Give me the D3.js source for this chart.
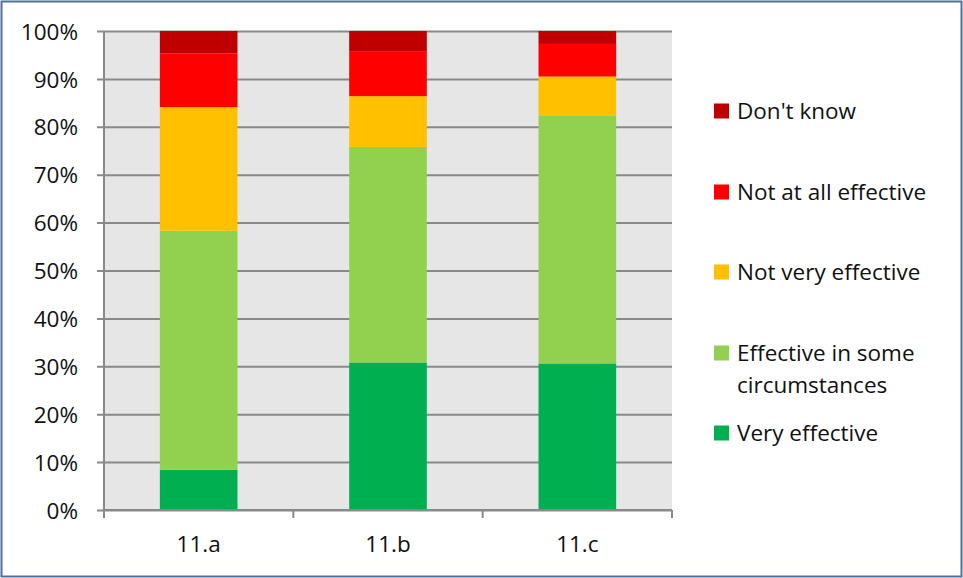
<!DOCTYPE html>
<html>
<head>
<meta charset="utf-8">
<script src="https://cdn.jsdelivr.net/npm/d3@7"></script>
<style>
  html, body { margin: 0; padding: 0; background: #fff; }
  svg { display: block; }
  text { font-family: "Open Sans", "Noto Sans", sans-serif; fill: #111; }
</style>
</head>
<body>
<svg id="chart" width="963" height="578"></svg>
<script>
// Questions on the x axis
const categories = ["11.a", "11.b", "11.c"];

// Share of answers (%) per question, bottom to top of each stack
const veryEffective       = [8.4, 30.8, 30.6];
const effectiveSome       = [49.9, 45.0, 51.8];
const notVeryEffective    = [25.8, 10.6, 8.1];
const notAtAllEffective   = [11.2, 9.4, 6.8];
const dontKnow            = [4.7, 4.2, 2.7];

const seriesNames  = ["Very effective", "Effective in some circumstances", "Not very effective", "Not at all effective", "Don't know"];
const seriesValues = [veryEffective, effectiveSome, notVeryEffective, notAtAllEffective, dontKnow];
const seriesColors = ["#00b050", "#92d050", "#ffc000", "#ff0000", "#c00000"];

const yTicks = [0, 10, 20, 30, 40, 50, 60, 70, 80, 90, 100];

const FONT = 22.5;

const svg = d3.select("#chart");
const W = 963, H = 578;

// outer frame
svg.append("rect")
  .attr("x", 1.5).attr("y", 1.5)
  .attr("width", W - 3).attr("height", H - 3)
  .attr("fill", "#fff")
  .attr("stroke", "#4f6fa0").attr("stroke-width", 2);

const plot = { left: 104, right: 672, top: 31, bottom: 510 };

const x = d3.scaleBand()
  .domain(categories)
  .range([plot.left, plot.right])
  .paddingInner(0.59)
  .paddingOuter(0.295);

const xCat = d3.scaleBand().domain(categories).range([plot.left, plot.right]);

const y = d3.scaleLinear().domain([0, 100]).range([plot.bottom, plot.top]);

// plot background
svg.append("rect")
  .attr("x", plot.left).attr("y", plot.top)
  .attr("width", plot.right - plot.left).attr("height", plot.bottom - plot.top)
  .attr("fill", "#e6e6e6");

// horizontal gridlines with outside tick marks
const yAxis = d3.axisLeft(y)
  .tickValues(yTicks)
  .tickSize(-(plot.right - plot.left))
  .tickFormat(d => d + "%");

const gy = svg.append("g")
  .attr("transform", `translate(${plot.left},0)`)
  .call(yAxis);
gy.select(".domain").remove();
gy.selectAll(".tick line")
  .attr("x1", -7)
  .attr("stroke", "#898989").attr("stroke-width", 2);
gy.selectAll(".tick text")
  .attr("x", -26)
  .attr("dy", "0.36em")
  .attr("font-size", FONT)
  .attr("fill", "#111");

// stacked bars
const rows = categories.map((c, i) => {
  const r = { cat: c };
  seriesNames.forEach((n, k) => { r[n] = seriesValues[k][i]; });
  return r;
});
const stacked = d3.stack().keys(seriesNames)(rows);

svg.append("g")
  .selectAll("g")
  .data(stacked)
  .join("g")
  .attr("fill", (d, i) => seriesColors[i])
  .selectAll("rect")
  .data(d => d)
  .join("rect")
  .attr("x", d => x(d.data.cat))
  .attr("width", x.bandwidth())
  .attr("y", d => y(Math.min(d[1], 100)))
  .attr("height", d => y(d[0]) - y(Math.min(d[1], 100)));

// y axis line
svg.append("line")
  .attr("x1", plot.left).attr("x2", plot.left)
  .attr("y1", plot.top).attr("y2", plot.bottom + 8)
  .attr("stroke", "#898989").attr("stroke-width", 2);

// x axis with category boundary ticks
const xAxis = d3.axisBottom(xCat).tickSize(0);
const gx = svg.append("g")
  .attr("transform", `translate(0,${plot.bottom})`)
  .call(xAxis);
gx.select(".domain")
  .attr("stroke", "#898989").attr("stroke-width", 2)
  .attr("d", `M${plot.left},0H${plot.right}`);
gx.selectAll(".tick text")
  .attr("y", 42)
  .attr("dy", "0")
  .attr("font-size", FONT)
  .attr("fill", "#111");

const bounds = categories.map(c => xCat(c)).concat([plot.right]);
gx.selectAll(".bound")
  .data(bounds)
  .join("line")
  .attr("class", "bound")
  .attr("x1", d => d).attr("x2", d => d)
  .attr("y1", 0).attr("y2", 8)
  .attr("stroke", "#898989").attr("stroke-width", 2);

// legend, top entry = top of stack
const legendItems = [
  { lines: ["Don't know"], color: seriesColors[4], y: 111 },
  { lines: ["Not at all effective"], color: seriesColors[3], y: 192 },
  { lines: ["Not very effective"], color: seriesColors[2], y: 272 },
  { lines: ["Effective in some", "circumstances"], color: seriesColors[1], y: 353 },
  { lines: ["Very effective"], color: seriesColors[0], y: 433 }
];

const lg = svg.append("g");
legendItems.forEach(it => {
  lg.append("rect")
    .attr("x", 714).attr("y", it.y - 7.5)
    .attr("width", 15).attr("height", 15)
    .attr("fill", it.color);
  const t = lg.append("text")
    .attr("x", 737).attr("y", it.y)
    .attr("font-size", FONT);
  it.lines.forEach((ln, j) => {
    t.append("tspan").attr("x", 737).attr("dy", j === 0 ? "0.36em" : 31.6).text(ln);
  });
});
</script>
</body>
</html>
